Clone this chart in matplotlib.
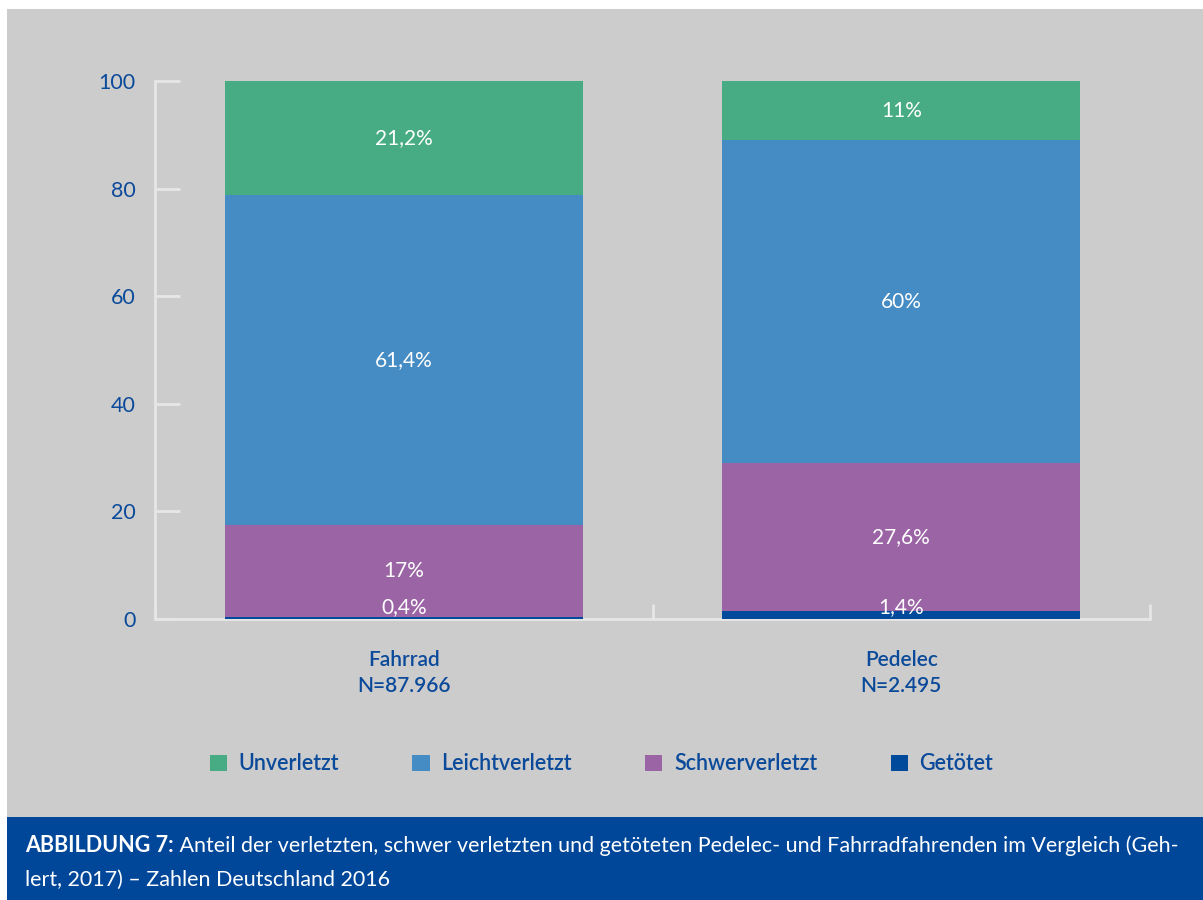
import matplotlib.pyplot as plt
from matplotlib.patches import Rectangle, Patch

# data
categories = ["Fahrrad\nN=87.966", "Pedelec\nN=2.495"]
series = ["Getötet", "Schwerverletzt", "Leichtverletzt", "Unverletzt"]
getoetet = [0.4, 1.4]
schwer = [17, 27.6]
leicht = [61.4, 60]
unverletzt = [21.2, 11]
value_labels = [
    ["0,4%", "1,4%"],
    ["17%", "27,6%"],
    ["61,4%", "60%"],
    ["21,2%", "11%"],
]
yticks = [0, 20, 40, 60, 80, 100]

colors = ["#004A9C", "#9B64A5", "#468CC4", "#47AC84"]
navy = "#0B4A9A"
bg = "#CCCCCC"

plt.rcParams["font.family"] = ["Lato", "DejaVu Sans"]

fig = plt.figure(figsize=(12.03, 9), dpi=100)

# background panels
fig.patches.append(Rectangle((7 / 1203, 83 / 900), 1 - 7 / 1203, 1 - 9 / 900 - 83 / 900,
                             transform=fig.transFigure, facecolor=bg, edgecolor="none", zorder=-10))
fig.patches.append(Rectangle((7 / 1203, 0), 1 - 7 / 1203, 83 / 900,
                             transform=fig.transFigure, facecolor="#00479A", edgecolor="none", zorder=-10))

ax = fig.add_axes([155 / 1203, 1 - 619 / 900, (1150 - 155) / 1203, (619 - 81) / 900])
ax.set_facecolor("none")

x = range(len(categories))
bottom = [0, 0]
for vals, col, labels in zip([getoetet, schwer, leicht, unverletzt], colors, value_labels):
    ax.bar(x, vals, 0.72, bottom=bottom, color=col, zorder=3)
    for i in x:
        yc = max(bottom[i] + vals[i] / 2, 2.3)
        ax.text(i, yc, labels[i], ha="center", va="center", color="white", fontsize=15, zorder=4)
    bottom = [b + v for b, v in zip(bottom, vals)]

ax.set_xlim(-0.5, 1.5)
ax.set_ylim(0, 100)
ax.set_yticks(yticks)
ax.set_xticks(list(x))
ax.set_xticklabels(categories, color=navy, fontsize=15, fontweight="semibold", linespacing=1.4)
ax.set_xticks([-0.5, 0.5, 1.5], minor=True)

for s in ["top", "right"]:
    ax.spines[s].set_visible(False)
for s in ["left", "bottom"]:
    ax.spines[s].set_color("#E6E6E6")
    ax.spines[s].set_linewidth(2)

ax.tick_params(axis="y", direction="in", length=18, width=2, color="#E6E6E6",
               labelcolor=navy, labelsize=15.5, pad=14)
ax.tick_params(axis="x", which="major", length=0, pad=22)
ax.tick_params(axis="x", which="minor", direction="in", length=11, width=2, color="#E6E6E6")

handles = [Patch(facecolor=c, edgecolor="none") for c in colors[::-1]]
leg = fig.legend(handles, series[::-1], loc="center", bbox_to_anchor=(0.5, 1 - 764 / 900),
                 ncol=4, frameon=False, fontsize=15.5, handlelength=0.8, handleheight=0.8,
                 handletextpad=0.55, columnspacing=3.4)
for t in leg.get_texts():
    t.set_color(navy)
    t.set_fontweight("semibold")

# caption
t1 = fig.text(25 / 1203, 1 - 852 / 900, "ABBILDUNG 7:", color="white", fontsize=15.5,
              fontweight="bold", va="baseline")
ax.annotate(" Anteil der verletzten, schwer verletzten und getöteten Pedelec- und "
            "Fahrradfahrenden im Vergleich (Geh-", xy=(1, 0), xycoords=t1, va="bottom",
            color="white", fontsize=15.5, annotation_clip=False)
fig.text(25 / 1203, 1 - 886 / 900, "lert, 2017) – Zahlen Deutschland 2016", color="white",
         fontsize=15.5, va="baseline")

fig.savefig("out.png", dpi=100, facecolor="white")
